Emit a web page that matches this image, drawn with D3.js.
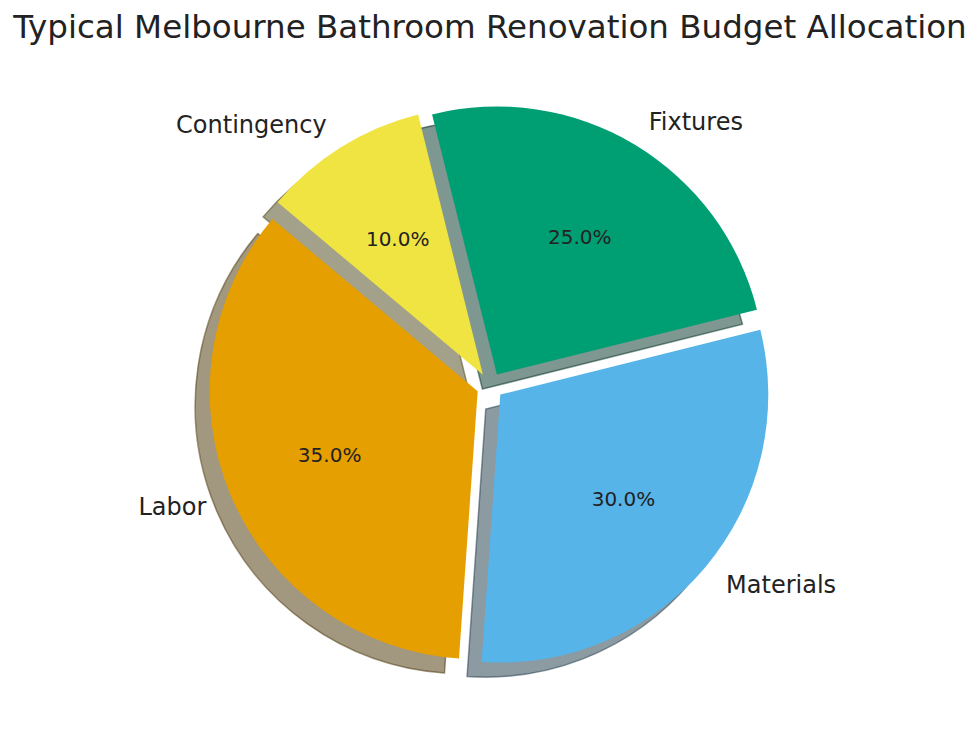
<!DOCTYPE html>
<html>
<head>
  <title>Melbourne Bathroom Budget</title>
  <script src="https://d3js.org/d3.v7.min.js"></script>
  <style>
    body { margin: 0; background: #fff; }
    text { font-family: "DejaVu Sans", sans-serif; fill: #222; }
  </style>
</head>
<body>
<script type="text/javascript">
  var categories = ["Labor", "Materials", "Fixtures", "Contingency"];
  var shares = [35, 30, 25, 10];
  var colors = ["#E69F00", "#56B4E9", "#009E73", "#F0E442"];
  var explode = [0.05, 0.05, 0.05, 0.05];

  var w = 980;
  var h = 739;
  var cx = 490, cy = 386, r = 268;
  var startDeg = 140; // counter-clockwise from 3 o'clock
  var shadowDx = -14.5, shadowDy = 14.5;

  var svg = d3.select("body").append("svg")
    .attr("width", w)
    .attr("height", h);

  svg.append("text")
    .attr("x", w / 2)
    .attr("y", 38)
    .attr("text-anchor", "middle")
    .style("font-size", "32.5px")
    .text("Typical Melbourne Bathroom Renovation Budget Allocation");

  var data = categories.map(function(c, i){
    return {name: c, v: shares[i], color: colors[i], ex: explode[i]};
  });

  var a0 = (90 - startDeg) * Math.PI / 180;
  var pie = d3.pie()
    .sort(null)
    .value(function(d){ return d.v; })
    .startAngle(a0)
    .endAngle(a0 - 2 * Math.PI);

  var arc = d3.arc().innerRadius(0).outerRadius(r);
  var arcs = pie(data);
  var total = d3.sum(shares);

  function dir(d){
    var m = (d.startAngle + d.endAngle) / 2;
    return [Math.sin(m), -Math.cos(m)];
  }
  function offset(d){
    var u = dir(d);
    return [cx + d.data.ex * r * u[0], cy + d.data.ex * r * u[1]];
  }
  function shade(d){
    var c = d3.rgb(d.data.color);
    return d3.rgb(c.r * 0.3, c.g * 0.3, c.b * 0.3);
  }

  // shadows go underneath every wedge
  svg.selectAll("path.shadow")
    .data(arcs)
    .enter()
    .append("path")
      .attr("class", "shadow")
      .attr("d", arc)
      .attr("transform", function(d){
        var o = offset(d);
        return "translate(" + (o[0] + shadowDx) + "," + (o[1] + shadowDy) + ")";
      })
      .attr("fill", shade)
      .attr("fill-opacity", 0.5)
      .attr("stroke", shade)
      .attr("stroke-opacity", 0.5)
      .attr("stroke-width", 1.5);

  svg.selectAll("path.wedge")
    .data(arcs)
    .enter()
    .append("path")
      .attr("class", "wedge")
      .attr("d", arc)
      .attr("transform", function(d){
        var o = offset(d);
        return "translate(" + o[0] + "," + o[1] + ")";
      })
      .attr("fill", function(d){ return d.data.color; });

  svg.selectAll("text.label")
    .data(arcs)
    .enter()
    .append("text")
      .attr("class", "label")
      .attr("x", function(d){ return offset(d)[0] + 1.1 * r * dir(d)[0]; })
      .attr("y", function(d){ return offset(d)[1] + 1.1 * r * dir(d)[1]; })
      .attr("dy", "0.36em")
      .attr("text-anchor", function(d){ return dir(d)[0] > 0 ? "start" : "end"; })
      .style("font-size", "24px")
      .text(function(d){ return d.data.name; });

  svg.selectAll("text.pct")
    .data(arcs)
    .enter()
    .append("text")
      .attr("class", "pct")
      .attr("x", function(d){ return offset(d)[0] + 0.6 * r * dir(d)[0]; })
      .attr("y", function(d){ return offset(d)[1] + 0.6 * r * dir(d)[1]; })
      .attr("dy", "0.38em")
      .attr("text-anchor", "middle")
      .style("font-size", "20px")
      .text(function(d){ return (d.data.v / total * 100).toFixed(1) + "%"; });
</script>
</body>
</html>
